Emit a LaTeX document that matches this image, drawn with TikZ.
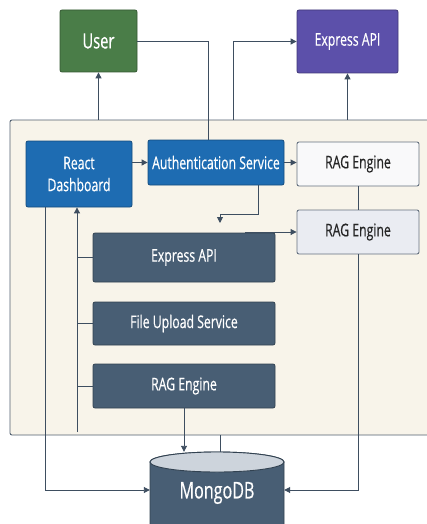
\documentclass[tikz,border=0pt]{standalone}
\usepackage{fontspec}
\setmainfont{Open Sans}[FakeStretch=0.70, FakeBold=0.5]
\usetikzlibrary{arrows.meta,calc}
\definecolor{usergreen}{RGB}{74,125,72}
\definecolor{apipurple}{RGB}{92,80,170}
\definecolor{dashblue}{RGB}{30,108,178}
\definecolor{slate}{RGB}{72,94,116}
\definecolor{linecol}{RGB}{62,78,96}
\definecolor{contfill}{RGB}{248,244,234}
\definecolor{ragfill}{RGB}{249,249,250}
\definecolor{rag2fill}{RGB}{234,236,242}
\definecolor{dbtop}{RGB}{205,212,220}
\tikzset{
  x=1pt, y=-1pt,
  box/.style={draw=#1!70!black, fill=#1, rounded corners=2pt, text=white, align=center, inner sep=2pt, line width=0.8pt, font=\fontsize{17.5}{22}\selectfont},
  ragbox/.style={draw=linecol!80, rounded corners=2pt, text=black!85, align=center, line width=0.9pt, minimum width=122pt, minimum height=44pt, font=\fontsize{17.5}{20}\selectfont},
  slatebox/.style={box=slate, minimum width=182pt},
  conn/.style={draw=linecol, line width=0.9pt},
  arr/.style={conn, -{Triangle[length=6pt,width=6pt]}},
}
\begin{document}
\begin{tikzpicture}
\useasboundingbox[fill=white] (0,0) rectangle (426,524);
% container
\node[draw=linecol!90, fill=contfill, line width=0.9pt, rounded corners=2pt, minimum width=422pt, minimum height=315pt, inner sep=0pt] (cont) at (221,277.5) {};
% top nodes
\node[box=usergreen, minimum width=77pt, minimum height=62pt, font=\fontsize{21}{24}\selectfont] (user) at (98.5,41) {User};
\node[box=apipurple, minimum width=101pt, minimum height=63pt] (expr) at (347.5,41.5) {Express API};
% inner nodes
\node[box=dashblue, minimum width=106pt, minimum height=66pt] (dash) at (79,174) {React\\Dashboard};
\node[box=dashblue, minimum width=136pt, minimum height=45pt] (auth) at (216,162.5) {Authentication Service};
\node[ragbox, fill=ragfill] (rag1) at (358,164) {RAG Engine};
\node[ragbox, fill=rag2fill] (rag2) at (358,232) {RAG Engine};
\node[slatebox, minimum height=49pt] (sexp) at (184,257.5) {Express API};
\node[slatebox, minimum height=43pt] (sfile) at (184,323.5) {File Upload Service};
\node[slatebox, minimum height=44pt] (srag) at (184,386) {RAG Engine};
% MongoDB cylinder
\node[minimum width=134pt, minimum height=76pt, inner sep=0pt] (mongo) at (217,490) {};
\filldraw[fill=slate, draw=slate!70!black, line width=0.9pt] (150,462) -- (150,540) -- (284,540) -- (284,462) arc[start angle=0, end angle=180, x radius=67pt, y radius=10pt] -- cycle;
\filldraw[fill=dbtop, draw=slate!70!black, line width=0.9pt] (217,462) ellipse[x radius=67pt, y radius=10pt];
\node[text=white, font=\fontsize{23}{25}\selectfont] (mongolabel) at (217,493) {MongoDB};
% connectors
\coordinate (c1) at (233,120);
\coordinate (c2) at (245,232);
\coordinate (c3) at (220,214);
\coordinate (b0) at (77,432);
\coordinate (b1) at (45,0);
\draw[conn] (user.east) -| ([xshift=-8pt]auth.north);
\draw[arr] (user.south |- cont.north) -- (user.south);
\draw[arr] (c1) |- (expr.west);
\draw[arr] (expr.south |- cont.north) -- (expr.south);
\draw[arr] (dash.east |- auth.west) -- (auth.west);
\draw[arr] (auth.east) -- (rag1.west |- auth.east);
\draw[conn] (rag1.south) -- (rag2.north);
\draw[arr] ([xshift=42pt]auth.south) |- (c3) -- ++(0,9);
\draw[arr] (c2) -- (rag2.west);
\draw[arr] (b0) -- (b0 |- dash.south);
\draw[conn] (b0 |- sexp.west) -- (sexp.west);
\draw[conn] (b0 |- sfile.west) -- (sfile.west);
\draw[conn] (b0 |- srag.west) -- (srag.west);
\draw[arr] (b1 |- dash.south) |- (mongo.west);
\draw[arr] (rag2.south) |- (mongo.east);
\draw[arr] (srag.south) -- (srag.south |- mongo.north);
\draw[conn] ([xshift=3pt]mongo.north |- cont.south) -- ([xshift=3pt]mongo.north);
\end{tikzpicture}
\end{document}
